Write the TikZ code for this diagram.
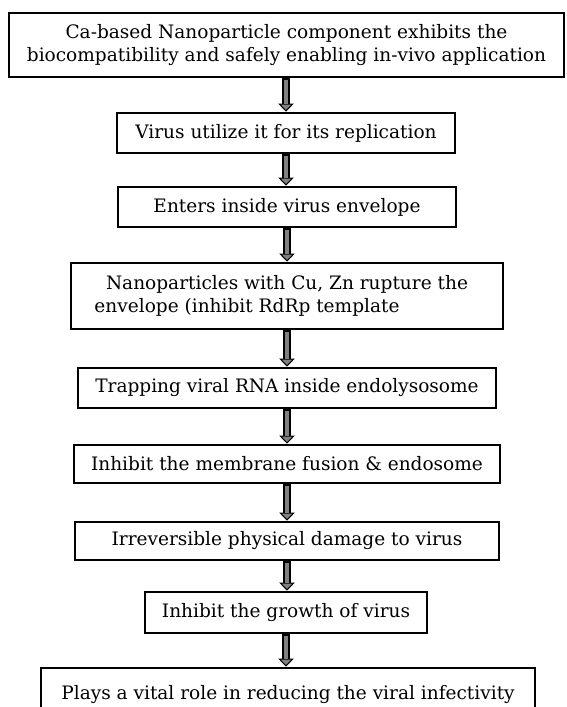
\documentclass[tikz,border=0pt]{standalone}
\usepackage{fontspec}
\setmainfont{DejaVu Serif}
\usetikzlibrary{arrows.meta}

\tikzset{
  stepbox/.style={draw, line width=2pt, inner sep=2pt, align=center,
    font=\fontsize{13.9pt}{17.25pt}\selectfont},
  flow/.style={line width=6pt,
    -{Triangle[length=6pt,width=11.5pt,line width=0.8pt,fill=black!50]},
    postaction={draw=black!50, line width=3.6pt, -, shorten <=1pt, shorten >=6pt}},
}

\begin{document}
\begin{tikzpicture}[x=0.75pt, y=0.75pt]
\useasboundingbox (0,0) rectangle (567,707);

\node[stepbox, minimum width=416.25pt, minimum height=48pt] (ca) at (286.5,662)
  {Ca-based Nanoparticle component exhibits the\\biocompatibility and safely enabling in-vivo application};
\node[stepbox, minimum width=253.5pt, minimum height=30pt] (repl) at (286,574)
  {Virus utilize it for its replication};
\node[stepbox, minimum width=253.5pt, minimum height=30pt] (enter) at (287,500)
  {Enters inside virus envelope};
\node[stepbox, minimum width=324pt, minimum height=49.5pt] (rupt) at (287,411)
  {Nanoparticles with Cu, Zn rupture the\\envelope (inhibit RdRp template\hspace*{60pt}};
\node[stepbox, minimum width=313.5pt, minimum height=30pt] (trap) at (287,319)
  {Trapping viral RNA inside endolysosome};
\node[stepbox, minimum width=319.5pt, minimum height=28.5pt] (fusion) at (287,243)
  {Inhibit the membrane fusion \& endosome};
\node[stepbox, minimum width=318pt, minimum height=28.5pt] (damage) at (287,166)
  {Irreversible physical damage to virus};
\node[stepbox, minimum width=211.5pt, minimum height=30.75pt] (growth) at (286,94.5)
  {Inhibit the growth of virus};
\node[stepbox, minimum width=370.5pt, minimum height=40.5pt] (role) at (288,12)
  {Plays a vital role in reducing the viral infectivity};

% block arrows between the steps
\draw[flow] (ca.south -| repl.north) -- (repl.north);
\draw[flow] (repl.south) -- (repl.south |- enter.north);
\draw[flow] (enter.south) -- (rupt.north);
\draw[flow] (rupt.south) -- (trap.north);
\draw[flow] (trap.south) -- (fusion.north);
\draw[flow] (fusion.south) -- (damage.north);
\draw[flow] (damage.south) -- (damage.south |- growth.north);
\draw[flow] (growth.south) -- (growth.south |- role.north);

\end{tikzpicture}
\end{document}
